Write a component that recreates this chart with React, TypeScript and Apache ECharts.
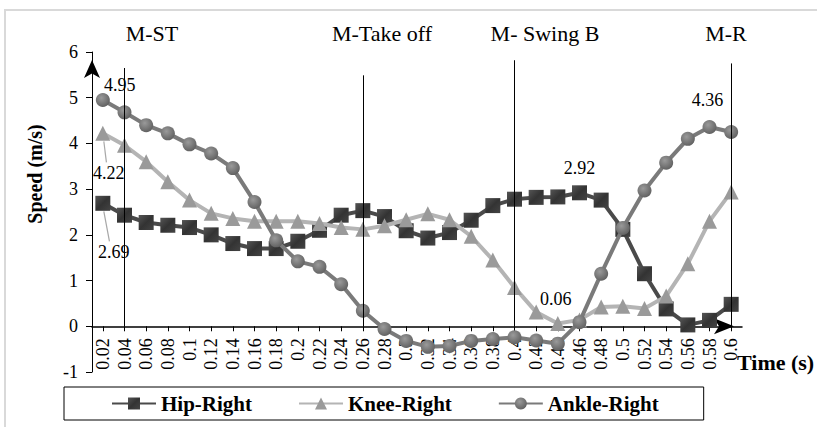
import React, { useEffect, useRef } from 'react';
import * as echarts from 'echarts';

const categories = ['0.02','0.04','0.06','0.08','0.1','0.12','0.14','0.16','0.18','0.2','0.22','0.24','0.26','0.28','0.3','0.32','0.34','0.36','0.38','0.4','0.42','0.44','0.46','0.48','0.5','0.52','0.54','0.56','0.58','0.6'];
const hipRight = [2.69,2.43,2.27,2.21,2.16,2.0,1.81,1.7,1.7,1.86,2.1,2.43,2.53,2.4,2.09,1.93,2.05,2.32,2.64,2.78,2.82,2.83,2.92,2.76,2.12,1.15,0.38,0.03,0.13,0.48];
const kneeRight = [4.22,3.96,3.6,3.16,2.76,2.47,2.36,2.3,2.3,2.3,2.25,2.16,2.12,2.2,2.33,2.46,2.33,1.97,1.45,0.85,0.31,0.06,0.14,0.42,0.44,0.39,0.66,1.37,2.3,2.94];
const ankleRight = [4.95,4.68,4.4,4.22,3.98,3.78,3.46,2.72,1.88,1.42,1.3,0.92,0.34,-0.06,-0.32,-0.45,-0.43,-0.32,-0.28,-0.24,-0.31,-0.38,0.09,1.15,2.15,2.97,3.58,4.1,4.36,4.25];

const seriesNames = ['Hip-Right', 'Knee-Right', 'Ankle-Right'];
const phaseNames = ['M-ST', 'M-Take off', 'M- Swing B', 'M-R'];
const phaseTimes = ['0.04', '0.26', '0.4', '0.6'];
const phaseLineTops = [5.65, 5.49, 5.82, 5.75];
const yMin = -1;
const yMax = 6;
const yInterval = 1;

// labelled points: [dataIndex, offsetX, offsetY, leaderLine]
const hipLabels: [number, number, number, boolean][] = [[0, 11, 49, true], [22, 0, -25, false]];
const kneeLabels: [number, number, number, boolean][] = [[0, 6, 40, true], [21, -2, -25, false]];
const ankleLabels: [number, number, number, boolean][] = [[0, 17, -15, false], [28, -2, -27, false]];

const FONT = 'Liberation Serif, Times New Roman, serif';

const GRID_TOP = 52;
const GRID_BOTTOM = 55;
const CHART_H = 427;

function buildData(values: number[], labels: [number, number, number, boolean][]) {
  return values.map((v, i) => {
    const l = labels.find((x) => x[0] === i);
    if (!l) return v;
    return {
      value: v,
      label: {
        show: true,
        position: 'inside',
        offset: [l[1], l[2]],
        formatter: (p: any) => String(p.value),
        color: '#000',
        fontFamily: FONT,
        fontSize: 18,
      },
    };
  });
}

export default function App() {
  const ref = useRef<HTMLDivElement>(null);
  useEffect(() => {
    if (!ref.current) return;
    const chart = echarts.init(ref.current, undefined, { renderer: 'svg' });
    const phaseLabelX = [152, 382, 545, 726];
    const plotH = CHART_H - GRID_TOP - GRID_BOTTOM;
    // move the x axis (line, ticks, labels) up to the value 0
    const zeroOffset = -(plotH * (0 - yMin)) / (yMax - yMin);
    chart.setOption({
      animation: false,
      backgroundColor: '#fff',
      textStyle: { fontFamily: FONT },
      grid: { left: 92, right: 75, top: GRID_TOP, bottom: GRID_BOTTOM, containLabel: false },
      legend: {
        left: 64,
        top: 387,
        orient: 'horizontal',
        data: seriesNames,
        itemWidth: 44,
        itemHeight: 15,
        itemGap: 46,
        padding: [6, 45, 6, 47],
        borderColor: '#000',
        borderWidth: 1,
        textStyle: { fontFamily: FONT, fontSize: 21, fontWeight: 'bold', color: '#000' },
      },
      xAxis: {
        type: 'category',
        data: categories,
        boundaryGap: true,
        offset: zeroOffset,
        axisLine: {
          onZero: false,
          lineStyle: { color: '#000', width: 1.5 },
          symbol: ['none', 'arrow'],
          symbolSize: [12, 20],
          symbolOffset: [0, -8],
        },
        axisTick: { show: true, alignWithLabel: true, length: 5, lineStyle: { color: '#000' } },
        axisLabel: {
          interval: 0,
          rotate: 90,
          margin: 12,
          fontFamily: FONT,
          fontSize: 18,
          color: '#000',
        },
        splitLine: { show: false },
      },
      yAxis: {
        type: 'value',
        min: yMin,
        max: yMax,
        interval: yInterval,
        axisLine: {
          show: true,
          lineStyle: { color: '#000', width: 1 },
          symbol: ['none', 'arrow'],
          symbolSize: [12, 18],
          symbolOffset: [0, -8],
        },
        axisTick: { show: true, length: 6, lineStyle: { color: '#000' } },
        axisLabel: { margin: 14, fontFamily: FONT, fontSize: 18, color: '#000' },
        splitLine: { show: false },
      },
      graphic: [
        {
          id: 'frame',
          type: 'rect',
          shape: { x: 5, y: 10, width: 900, height: 500 },
          style: { fill: 'none', stroke: '#d9d9d9', lineWidth: 2 },
          silent: true,
        },
        ...phaseNames.map((t, i) => ({
          id: 'phase' + i,
          type: 'text',
          x: phaseLabelX[i],
          y: 33,
          style: {
            text: t,
            font: '22px Liberation Serif, Times New Roman, serif',
            fill: '#000',
            textAlign: 'center',
            textVerticalAlign: 'middle',
          },
        })),
        {
          id: 'yname',
          type: 'text',
          x: 35,
          y: 174,
          rotation: Math.PI / 2,
          style: {
            text: 'Speed (m/s)',
            font: 'bold 20px Liberation Serif, Times New Roman, serif',
            fill: '#000',
            textAlign: 'center',
            textVerticalAlign: 'middle',
          },
        },
        {
          id: 'xname',
          type: 'text',
          x: 737,
          y: 362,
          style: {
            text: 'Time (s)',
            font: 'bold 22px Liberation Serif, Times New Roman, serif',
            fill: '#000',
            textAlign: 'left',
            textVerticalAlign: 'middle',
          },
        },
      ],
      series: [
        {
          name: seriesNames[0],
          type: 'line',
          data: buildData(hipRight, hipLabels),
          symbol: 'rect',
          symbolSize: 15,
          lineStyle: { color: '#4a4a4a', width: 4 },
          itemStyle: {
            color: new echarts.graphic.LinearGradient(0, 0, 1, 1, [
              { offset: 0, color: '#555' },
              { offset: 0.5, color: '#333' },
              { offset: 1, color: '#444' },
            ]),
          },
          z: 2,
          markLine: {
            silent: true,
            symbol: ['none', 'none'],
            label: { show: false },
            lineStyle: { color: '#000', width: 1, type: 'solid' },
            data: phaseTimes.map((t, i) => [
              { coord: [t, 0] },
              { coord: [t, phaseLineTops[i]] },
            ]),
          },
        },
        {
          name: seriesNames[1],
          type: 'line',
          data: buildData(kneeRight, kneeLabels),
          symbol: 'triangle',
          symbolSize: 15,
          lineStyle: { color: '#b4b4b4', width: 4 },
          itemStyle: { color: '#9a9a9a' },
          z: 3,
        },
        {
          name: seriesNames[2],
          type: 'line',
          data: buildData(ankleRight, ankleLabels),
          symbol: 'circle',
          symbolSize: 14,
          lineStyle: { color: '#7a7a7a', width: 4 },
          itemStyle: {
            color: new echarts.graphic.RadialGradient(0.4, 0.35, 0.7, [
              { offset: 0, color: '#9a9a9a' },
              { offset: 1, color: '#5e5e5e' },
            ]),
          },
          z: 4,
        },
      ],
    });

    // leader lines from labelled points to their moved labels
    const leaders: { id: string; cat: string; val: number; off: [number, number] }[] = [];
    const collect = (vals: number[], labs: [number, number, number, boolean][], key: string) => {
      labs.forEach((l) => {
        if (l[3]) leaders.push({ id: key + l[0], cat: categories[l[0]], val: vals[l[0]], off: [l[1], l[2]] });
      });
    };
    collect(hipRight, hipLabels, 'hip');
    collect(kneeRight, kneeLabels, 'knee');
    const lines = leaders.map((d) => {
      const p = chart.convertToPixel({ gridIndex: 0 }, [d.cat, d.val]) as number[];
      return {
        id: 'leader-' + d.id,
        type: 'line',
        silent: true,
        z: 1,
        shape: {
          x1: p[0] + 1,
          y1: p[1] + 8,
          x2: p[0] + d.off[0] * 0.6,
          y2: p[1] + d.off[1] - 11,
        },
        style: { stroke: '#a8a8a8', lineWidth: 1.2 },
      };
    });
    chart.setOption({ graphic: lines });

    return () => chart.dispose();
  }, []);
  return (
    <div
      ref={ref}
      style={{ position: 'fixed', left: 0, top: 0, width: 817, height: 427 }}
    />
  );
}
